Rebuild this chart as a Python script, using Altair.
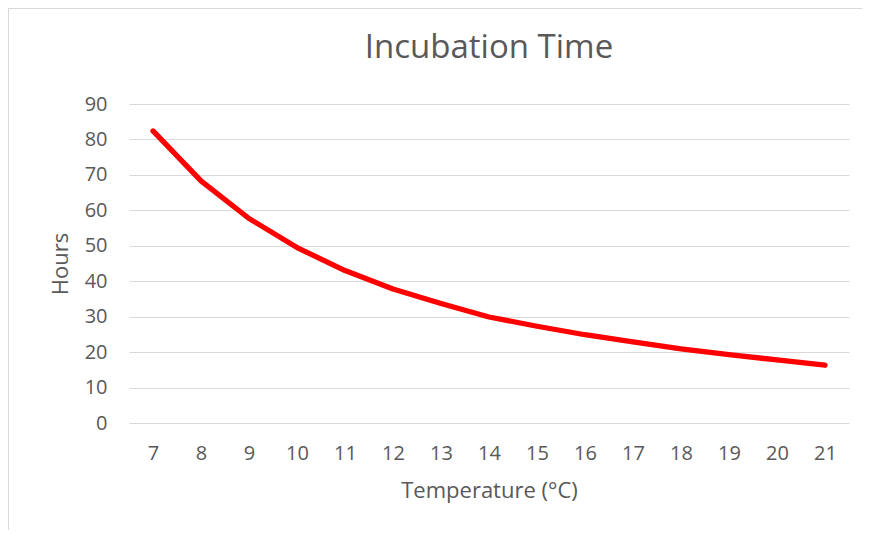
import altair as alt
import pandas as pd

temps = [7, 8, 9, 10, 11, 12, 13, 14, 15, 16, 17, 18, 19, 20, 21]
hours = [82.4, 68.3, 57.7, 49.5, 43.0, 37.8, 33.7, 29.9, 27.3, 24.9, 22.9, 20.9, 19.3, 17.8, 16.3]

df = pd.DataFrame({"Temperature": temps, "Hours": hours})

FONT = "Open Sans"
GRAY = "#595959"

line = alt.Chart(df).mark_line(color="#FF0000", strokeWidth=5.3, strokeCap="round", strokeJoin="round").encode(
    x=alt.X("Temperature:O", title="Temperature (°C)",
            axis=alt.Axis(labelAngle=0, domain=False, ticks=False, grid=False,
                          labelPadding=20, titlePadding=17)),
    y=alt.Y("Hours:Q", title="Hours",
            scale=alt.Scale(domain=[0, 90], nice=False),
            axis=alt.Axis(values=list(range(0, 100, 10)), domain=False, ticks=False,
                          labelPadding=22, titlePadding=12, gridColor="#d9d9d9", gridWidth=1)),
)

top_border = alt.Chart(df).mark_rule(color="#d9d9d9", strokeWidth=1).encode(
    x=alt.value(-120.5), x2=alt.value(760), y=alt.value(-95.5)
)
left_border = alt.Chart(df).mark_rule(color="#d9d9d9", strokeWidth=1).encode(
    x=alt.value(-120.5), y=alt.value(-95.5), y2=alt.value(440)
)

chart = alt.layer(top_border, left_border, line).properties(
    width=720, height=319,
    background="white",
    title=alt.TitleParams("Incubation Time", fontSize=33, font=FONT, fontWeight="normal",
                          color=GRAY, offset=-57, anchor="middle", frame="group"),
    autosize=alt.AutoSizeParams(type="none"),
    padding={"left": 121, "top": 96, "right": 13, "bottom": 107},
).configure_view(stroke=None).configure_axis(
    labelFont=FONT, labelFontSize=20, labelColor=GRAY,
    titleFont=FONT, titleFontSize=22, titleColor=GRAY, titleFontWeight="normal",
)

chart.save("out.html", embed_options={"renderer": "svg", "actions": False})
